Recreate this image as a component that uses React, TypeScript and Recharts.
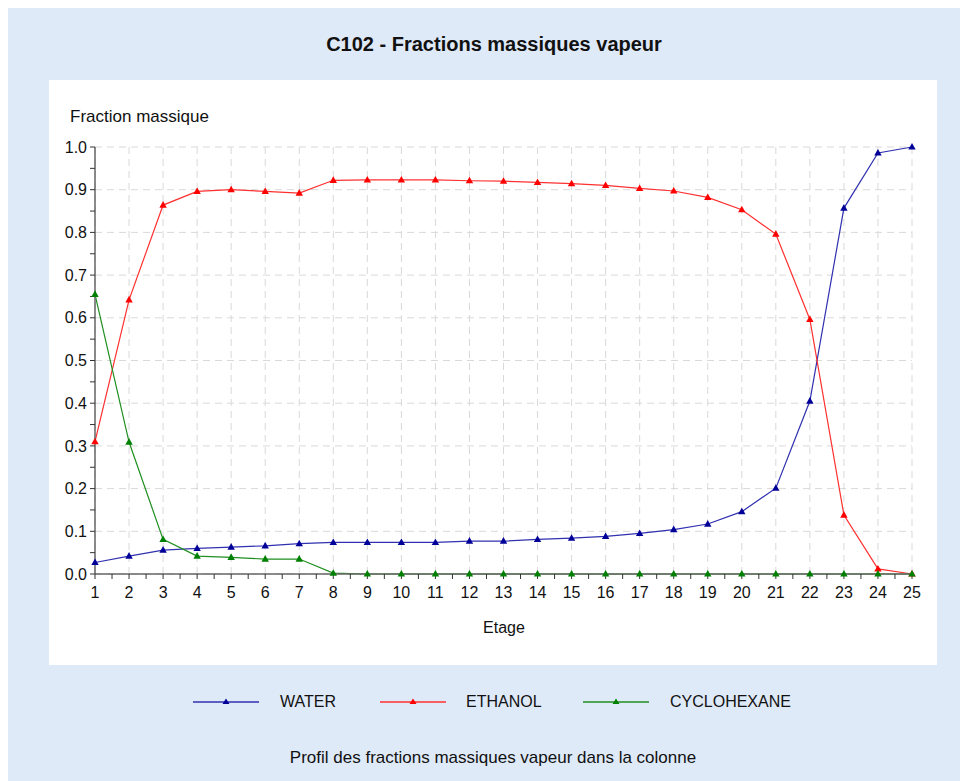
import React from 'react';
import { LineChart, Line, XAxis, YAxis, CartesianGrid } from 'recharts';

// Profil vapeur C102
const stages = [1, 2, 3, 4, 5, 6, 7, 8, 9, 10, 11, 12, 13, 14, 15, 16, 17, 18, 19, 20, 21, 22, 23, 24, 25];
const water = [0.027, 0.042, 0.056, 0.06, 0.063, 0.066, 0.071, 0.074, 0.074, 0.074, 0.074, 0.077, 0.077, 0.081, 0.084, 0.088, 0.095, 0.104, 0.117, 0.146, 0.201, 0.405, 0.857, 0.986, 1.0];
const ethanol = [0.31, 0.642, 0.864, 0.896, 0.9, 0.896, 0.892, 0.922, 0.923, 0.923, 0.923, 0.921, 0.92, 0.917, 0.914, 0.91, 0.903, 0.897, 0.882, 0.853, 0.796, 0.596, 0.138, 0.012, 0.0];
const cyclohexane = [0.655, 0.309, 0.081, 0.042, 0.039, 0.035, 0.035, 0.002, 0, 0, 0, 0, 0, 0, 0, 0, 0, 0, 0, 0, 0, 0, 0, 0, 0];

const xTicks = [1, 1.5, 2, 2.5, 3, 3.5, 4, 4.5, 5, 5.5, 6, 6.5, 7, 7.5, 8, 8.5, 9, 9.5, 10, 10.5, 11, 11.5, 12, 12.5, 13, 13.5, 14, 14.5, 15, 15.5, 16, 16.5, 17, 17.5, 18, 18.5, 19, 19.5, 20, 20.5, 21, 21.5, 22, 22.5, 23, 23.5, 24, 24.5, 25];
const yTicks = [0, 0.05, 0.1, 0.15, 0.2, 0.25, 0.3, 0.35, 0.4, 0.45, 0.5, 0.55, 0.6, 0.65, 0.7, 0.75, 0.8, 0.85, 0.9, 0.95, 1.0];
const yGrid = [0, 0.1, 0.2, 0.3, 0.4, 0.5, 0.6, 0.7, 0.8, 0.9, 1.0];

const series = [
  { key: 'water', name: 'WATER', line: '#3030b0', mark: '#000099' },
  { key: 'ethanol', name: 'ETHANOL', line: '#ff3030', mark: '#ff0000' },
  { key: 'cyclohexane', name: 'CYCLOHEXANE', line: '#1f8f1f', mark: '#008000' },
];

const data = stages.map((stage, i) => ({
  stage,
  water: water[i],
  ethanol: ethanol[i],
  cyclohexane: cyclohexane[i],
}));

const font = '"Liberation Sans", Arial, sans-serif';

const triangle = (color: string) => (props: any) => {
  const { cx, cy, index } = props;
  if (cx == null || cy == null) return <g key={`t-${index}`} />;
  return (
    <polygon
      key={`t-${index}`}
      points={`${cx},${cy - 4} ${cx + 3.7},${cy + 2.6} ${cx - 3.7},${cy + 2.6}`}
      fill={color}
    />
  );
};

const isWhole = (v: number) => Math.abs(v - Math.round(v)) < 1e-6;

export default function App() {
  return (
    <div
      style={{
        position: 'relative',
        marginLeft: -5,
        width: 962,
        height: 773,
        background: '#dfeaf8',
        fontFamily: font,
        color: '#111',
      }}
    >
      <div
        style={{
          position: 'absolute',
          left: 491,
          top: 25,
          transform: 'translateX(-50%)',
          whiteSpace: 'nowrap',
          fontSize: 20,
          fontWeight: 'bold',
          lineHeight: '22px',
        }}
      >
        C102 - Fractions massiques vapeur
      </div>

      <div style={{ position: 'absolute', left: 46, top: 72, width: 888, height: 585, background: '#fff' }}>
        <div style={{ position: 'absolute', left: 21, top: 27, fontSize: 17, lineHeight: '19px', whiteSpace: 'nowrap' }}>
          Fraction massique
        </div>
        <LineChart width={888} height={585} data={data} margin={{ top: 67, right: 25, left: 0, bottom: 61 }}>
          <CartesianGrid
            stroke="#d9d9d9"
            strokeDasharray="7 5"
            verticalValues={stages}
            horizontalValues={yGrid}
          />
          <XAxis
            type="number"
            dataKey="stage"
            domain={[1, 25]}
            ticks={xTicks}
            interval={0}
            height={30}
            tickSize={5}
            tickMargin={8}
            stroke="#555"
            axisLine={{ stroke: '#666', strokeWidth: 1.5 }}
            tickLine={{ stroke: '#333' }}
            tick={{ fill: '#111', fontSize: 16, fontFamily: font }}
            tickFormatter={(v: number) => (isWhole(v) ? String(v) : '')}
          />
          <YAxis
            type="number"
            domain={[0, 1]}
            ticks={yTicks}
            interval={0}
            width={46}
            tickSize={5}
            tickMargin={3}
            stroke="#555"
            axisLine={{ stroke: '#666', strokeWidth: 1.5 }}
            tickLine={{ stroke: '#333' }}
            tick={{ fill: '#111', fontSize: 16, fontFamily: font }}
            tickFormatter={(v: number) => (isWhole(v * 10) ? v.toFixed(1) : '')}
          />
          {series.map((s) => (
            <Line
              key={s.key}
              type="linear"
              dataKey={s.key}
              stroke={s.line}
              strokeWidth={1.2}
              dot={triangle(s.mark)}
              activeDot={false}
              isAnimationActive={false}
            />
          ))}
        </LineChart>
        <div
          style={{
            position: 'absolute',
            left: 455,
            top: 539,
            transform: 'translateX(-50%)',
            fontSize: 16,
            lineHeight: '18px',
          }}
        >
          Etage
        </div>
      </div>

      {series.map((s, i) => {
        const lineX = [190, 377, 580][i];
        const textX = [277, 463, 667][i];
        return (
          <React.Fragment key={s.key}>
            <svg style={{ position: 'absolute', left: lineX, top: 688 }} width={66} height={12}>
              <line x1={0} y1={6} x2={66} y2={6} stroke={s.line} strokeWidth={1.5} />
              <polygon points="33,2.5 36.5,8 29.5,8" fill={s.mark} />
            </svg>
            <div style={{ position: 'absolute', left: textX, top: 684, fontSize: 16, lineHeight: '19px', whiteSpace: 'nowrap' }}>
              {s.name}
            </div>
          </React.Fragment>
        );
      })}

      <div
        style={{
          position: 'absolute',
          left: 490,
          top: 740,
          transform: 'translateX(-50%)',
          whiteSpace: 'nowrap',
          fontSize: 17,
          lineHeight: '19px',
        }}
      >
        Profil des fractions massiques vapeur dans la colonne
      </div>
    </div>
  );
}
